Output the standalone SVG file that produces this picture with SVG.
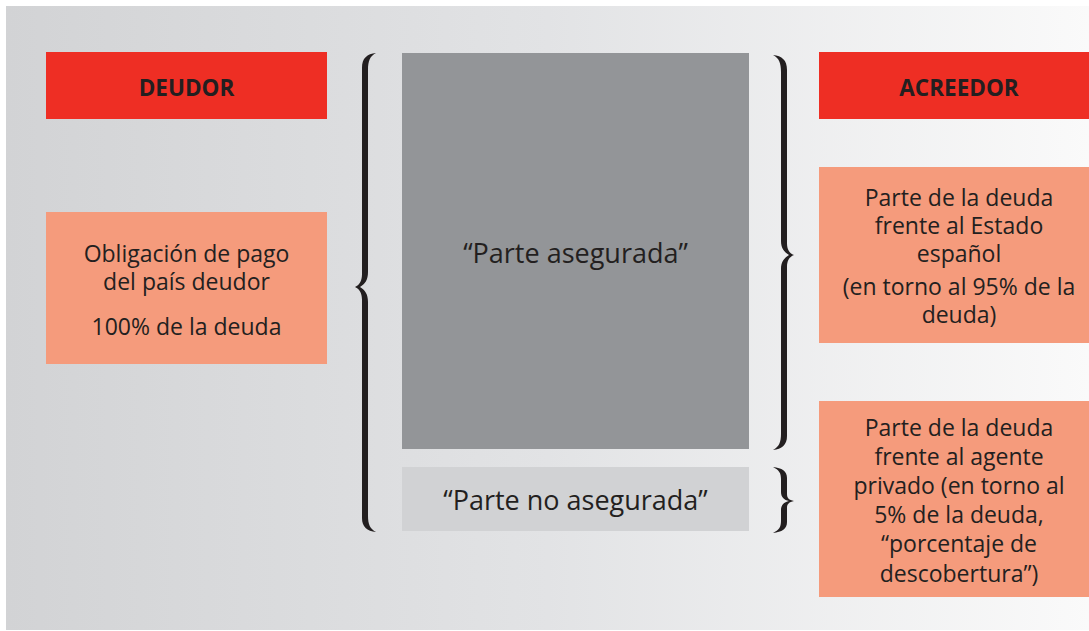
<svg xmlns="http://www.w3.org/2000/svg" width="1089" height="631" viewBox="0 0 1089 631">
<defs>
<linearGradient id="bg" x1="0" y1="0" x2="1" y2="0">
<stop offset="0" stop-color="#d2d3d5"/>
<stop offset="0.5" stop-color="#e2e3e5"/>
<stop offset="1" stop-color="#fafafa"/>
</linearGradient>
</defs>
<style>
.t{font-family:"Open Sans","Liberation Sans",sans-serif;fill:#231f20;text-anchor:middle}
.b{font-size:22.5px;font-weight:700}
.n{font-size:23px}
.c{font-size:27px}
.red{fill:#ee2e24}
.sal{fill:#f59b7c}
.brace{fill:#231f20}
</style>
<rect x="0" y="0" width="1089" height="631" fill="#ffffff"/>
<rect x="6" y="6" width="1083" height="624" fill="url(#bg)"/>
<g id="deudor">
<rect class="red" x="46" y="52" width="281" height="67"/>
<text class="t b" x="186.5" y="95.5">DEUDOR</text>
</g>
<g id="obligacion">
<rect class="sal" x="46" y="212" width="281" height="152"/>
<text class="t n" x="186.5" y="262">Obligación de pago</text>
<text class="t n" x="186.5" y="290">del país deudor</text>
<text class="t n" x="186.5" y="335">100% de la deuda</text>
</g>
<g id="asegurada">
<rect x="402" y="53" width="347" height="396" fill="#939598"/>
<text class="t c" x="575.5" y="263">“Parte asegurada”</text>
</g>
<g id="noasegurada">
<rect x="402" y="467" width="347" height="64" fill="#d1d2d4"/>
<text class="t c" x="575.5" y="510">“Parte no asegurada”</text>
</g>
<g id="acreedor">
<rect class="red" x="819" y="52" width="281" height="67"/>
<text class="t b" x="959" y="95.5">ACREEDOR</text>
</g>
<g id="estado">
<rect class="sal" x="819" y="167" width="281" height="176"/>
<text class="t n" x="959" y="206">Parte de la deuda</text>
<text class="t n" x="959" y="234">frente al Estado</text>
<text class="t n" x="959" y="262">español</text>
<text class="t n" x="959" y="295">(en torno al 95% de la</text>
<text class="t n" x="959" y="323">deuda)</text>
</g>
<g id="privado">
<rect class="sal" x="819" y="401" width="281" height="196"/>
<text class="t n" x="959" y="436">Parte de la deuda</text>
<text class="t n" x="959" y="465">frente al agente</text>
<text class="t n" x="959" y="494">privado (en torno al</text>
<text class="t n" x="959" y="523">5% de la deuda,</text>
<text class="t n" x="959" y="552">“porcentaje de</text>
<text class="t n" x="959" y="582">descobertura”)</text>
</g>
<g id="connectors">
<path class="brace" d="M376,53 C367,54 362,58 362,68 L362,274 C362,280 360,285 355,287 C360,289 362,294 362,300 L362,518 C362,527 367,531 376,532 C370,529 368,524 368,516 L368,302 C368,294 365,290 360,287 C365,284 368,280 368,272 L368,70 C368,61 370,56 376,53 Z"/>
<path class="brace" d="M773,55 C782,56 787,60 787,70 L787,243 C787,249 789,253 794,255 C789,257 787,261 787,267 L787,436 C787,445 782,449 773,450 C779,447 781,442 781,434 L781,269 C781,262 784,258 789,255 C784,252 781,248 781,241 L781,72 C781,63 779,58 773,55 Z"/>
<path class="brace" d="M773,467 C782,468 787,471 787,478 L787,494 C787,498 789,500 794,501 C789,502 787,504 787,508 L787,522 C787,529 782,532 773,533 C779,530 781,527 781,521 L781,510 C781,505 784,502 789,501 C784,500 781,497 781,492 L781,479 C781,473 779,470 773,467 Z"/>
</g>
</svg>
